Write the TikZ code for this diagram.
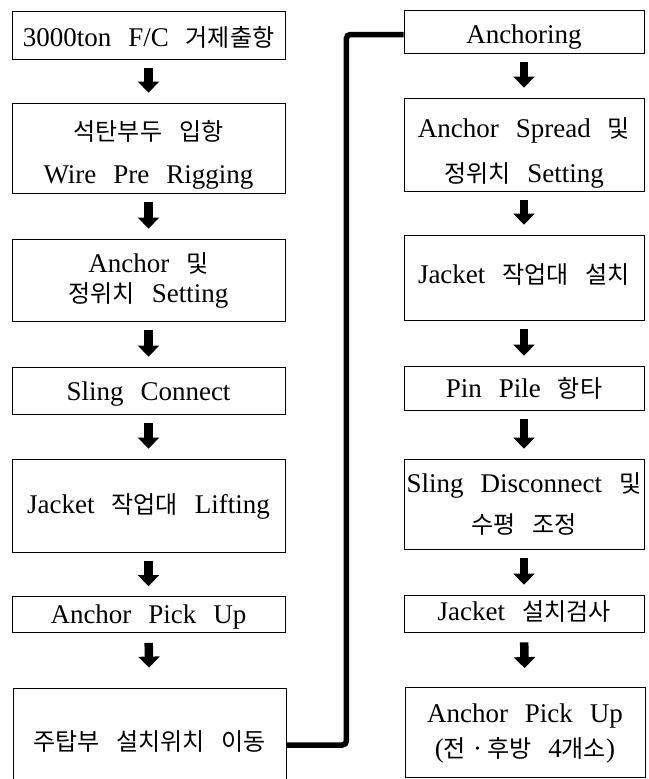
\documentclass[tikz,border=0pt]{standalone}
\usepackage{fontspec}
\setmainfont{Liberation Serif}
\newfontfamily\krfont{Noto Sans CJK KR}[Scale=0.89]
\newcommand\K[1]{{\krfont #1}}
\newcommand\T[2]{\raisebox{-#1pt}[16pt][6pt]{#2}}
\newcommand\boxfont{\fontsize{27}{32}\selectfont\spaceskip=17pt\relax}
\usetikzlibrary{arrows.meta}
\tikzset{
  stepbox/.style={draw=black, line width=0.8pt, rectangle, align=center, inner sep=1pt,
    font=\boxfont},
  lbox/.style={stepbox, minimum width=273pt},
  rbox/.style={stepbox, minimum width=240pt},
  downarrow/.style={draw=black, line width=8.5pt, -{Triangle[width=21pt,length=11pt]}},
  link/.style={draw=black, line width=5.5pt, rounded corners=4pt}
}
\begin{document}
\begin{tikzpicture}[x=1pt,y=-1pt]
\path[use as bounding box] (0,0) rectangle (648,779);
\clip (0,0) rectangle (648,779);
% left column
\node[lbox, minimum height=48pt] (L1) at (148.5,35) {\T{6}{3000ton F/C \K{거제출항}}};
\node[lbox, minimum height=90pt] (L2) at (148.5,148) {\T{8.5}{\K{석탄부두 입항}}\\[11pt]\T{8.5}{Wire Pre Rigging}};
\node[lbox, minimum height=82pt] (L3) at (148.5,280) {\T{2}{Anchor \K{및}}\\[-2pt]\T{2}{\K{정위치} Setting}};
\node[lbox, minimum height=47pt] (L4) at (148.5,390.5) {\T{4.5}{Sling Connect}};
\node[lbox, minimum height=93pt] (L5) at (148.5,505.5) {\T{2.5}{Jacket \K{작업대} Lifting}};
\node[lbox, minimum height=36pt] (L6) at (148.5,614.5) {\T{3.5}{Anchor Pick Up}};
\node[lbox, minimum height=104pt] (L7) at (149.5,740) {\T{5}{\K{주탑부 설치위치 이동}}};
% right column
\node[rbox, minimum height=43pt] (R1) at (524,31.5) {\T{6.5}{Anchoring}};
\node[rbox, minimum height=93pt] (R2) at (524,144.5) {\T{10}{Anchor Spread \K{및}}\\[13pt]\T{10}{\K{정위치} Setting}};
\node[rbox, minimum height=85pt] (R3) at (524,277.5) {\T{0.5}{Jacket \K{작업대 설치}}};
\node[rbox, minimum height=44pt] (R4) at (524,388) {\T{4}{Pin Pile \K{항타}}};
\node[rbox, minimum height=90pt] (R5) at (524,504) {\T{3.5}{Sling Disconnect \K{및}}\\[9pt]\T{3.5}{\K{수평 조정}}};
\node[rbox, minimum height=37pt] (R6) at (524,613.5) {\T{1.5}{Jacket \K{설치검사}}};
\node[rbox, minimum height=90pt] (R7) at (525,732.5) {\T{2}{Anchor Pick Up}\\[3pt]\T{2}{(\K{전}\hspace{7pt}·\hspace{5pt}\K{후방} 4\K{개소})}};
% arrows
\foreach \a/\b in {L1/L2,L2/L3,L3/L4,L4/L5,L5/L6,R1/R2,R2/R3,R3/R4,R4/R5,R5/R6}
  \draw[downarrow, shorten <=9pt, shorten >=10pt] (\a.south) -- (\b.north);
\draw[downarrow, shorten <=10pt, shorten >=20pt] (L6.south) -- (L7.north);
\draw[downarrow, shorten <=10pt, shorten >=19pt] (R6.south) -- (R7.north);
% link from left column to right column
\draw[link] ([yshift=-5pt]L7.east) -- ++(60,0) |- ([yshift=-3pt]R1.west);
\end{tikzpicture}
\end{document}
